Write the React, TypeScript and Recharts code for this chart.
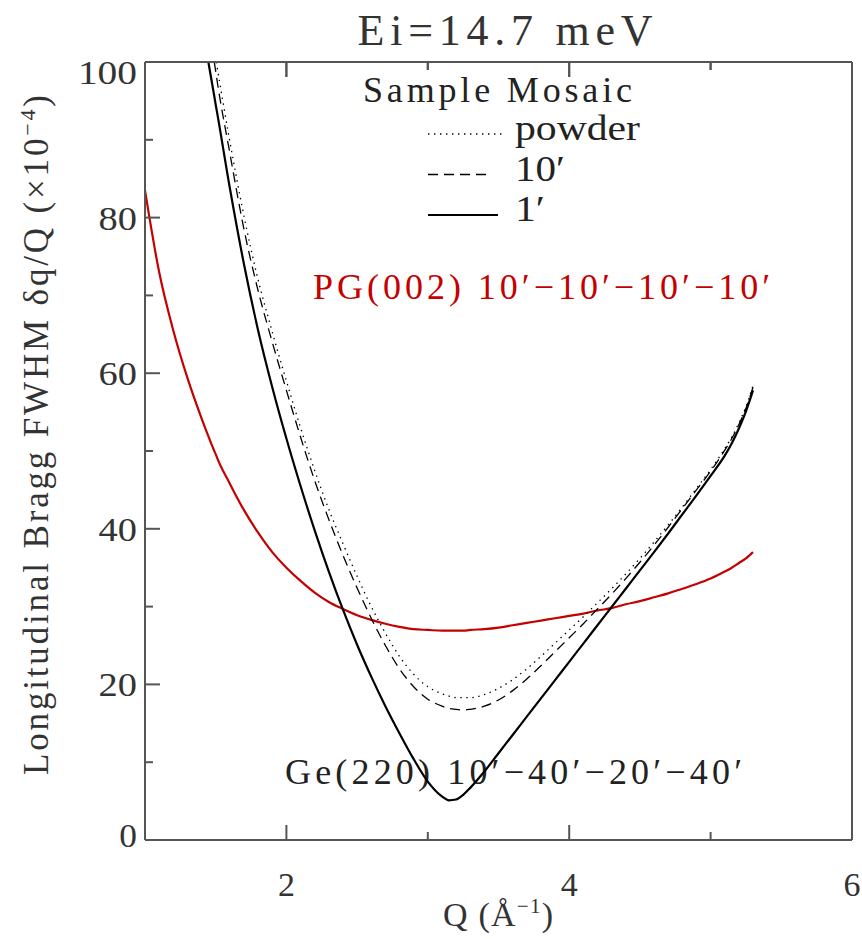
import { LineChart, Line, XAxis, YAxis, Legend, ReferenceLine } from "recharts"

// Q grid (Å^-1); 1.448 / 1.49 / 1.504 are where the Ge curves leave the top of the frame
const qValues = [
  1.0, 1.1, 1.2, 1.3, 1.4, 1.448, 1.49, 1.5, 1.504, 1.6, 1.7, 1.8, 1.9, 2.0, 2.1, 2.2, 2.3, 2.4, 2.5, 2.6, 2.7, 2.8, 2.9, 3.0, 3.1,
  3.15, 3.2, 3.25,
  3.3, 3.4, 3.5, 3.6, 3.7, 3.8, 3.9, 4.0, 4.1, 4.2, 4.3, 4.4, 4.5, 4.6, 4.7, 4.8, 4.9, 5.0, 5.1,
  5.15, 5.2, 5.25, 5.3,
]

// PG(002) 10'-10'-10'-10'
const pgCurve = [
  83.5, 73.0, 65.5, 59.4, 54.2, 51.9, 50.0, 49.6, 49.4, 45.8, 42.4, 39.5, 37.0, 35.0, 33.3, 31.8, 30.6, 29.7, 28.9, 28.3, 27.8, 27.4, 27.1, 27.0, 26.9,
  26.9, 26.9, 26.9,
  27.0, 27.1, 27.3, 27.6, 27.9, 28.2, 28.5, 28.8, 29.1, 29.5, 29.8, 30.3, 30.7, 31.2, 31.7, 32.3, 32.9, 33.6, 34.5,
  35.0, 35.6, 36.2, 37.0,
]

// Ge(220) 10'-40'-20'-40', sample mosaic powder / 10' / 1'
const gePowder = [
  null, null, null, null, null, null, null, null, 100.0, 89.8, 80.2, 72.0, 65.3, 59.0, 53.0, 47.5, 42.5, 38.1, 33.9, 30.0, 26.6, 23.6, 21.3, 19.7, 18.8,
  18.5, 18.3, 18.3,
  18.3, 18.7, 19.5, 20.6, 22.0, 23.6, 25.3, 27.0, 28.7, 30.5, 32.3, 34.2, 36.2, 38.3, 40.5, 42.8, 45.2, 47.6, 50.3,
  51.8, 53.6, 55.7, 58.4,
]
const ge10 = [
  null, null, null, null, null, null, 100.0, 98.8, 98.3, 88.3, 78.5, 70.6, 64.0, 57.8, 51.8, 46.2, 41.2, 36.6, 32.4, 28.5, 25.0, 22.0, 19.7, 18.1, 17.2,
  16.9, 16.8, 16.7,
  16.8, 17.2, 18.0, 19.2, 20.7, 22.4, 24.2, 26.0, 27.8, 29.7, 31.6, 33.6, 35.7, 37.9, 40.2, 42.6, 45.0, 47.4, 50.1,
  51.6, 53.4, 55.5, 58.2,
]
const ge1 = [
  null, null, null, null, null, 100.0, 95.6, 94.5, 94.1, 83.8, 74.0, 65.5, 58.2, 51.6, 45.5, 39.8, 34.5, 29.6, 25.1, 21.0, 17.2, 13.7, 10.4, 7.5, 5.6,
  5.1, 5.2, 5.8,
  6.7, 8.8, 11.15, 13.5, 15.85, 18.2, 20.55, 22.9, 25.25, 27.6, 29.95, 32.3, 34.65, 37.0, 39.4, 41.85, 44.3, 46.8, 49.4,
  51.0, 52.9, 55.1, 57.8,
]

const xTicks = [1, 2, 3, 4, 5, 6]
const xLabeled = [2, 4, 6]
const xInner = [2, 3, 4, 5]
const yTicks = [0, 10, 20, 30, 40, 50, 60, 70, 80, 90, 100]
const yLabeled = [0, 20, 40, 60, 80, 100]
const legendOrder = ["powder", "10′", "1′"]

const rows = qValues.map((q, i) => ({ q, pg: pgCurve[i], powder: gePowder[i], m10: ge10[i], m1: ge1[i] }))

const FONT = "'Liberation Serif', 'DejaVu Serif', serif"
const FRAME = "#555"
const RED = "#c40000"
const MAJOR = 15
const MINOR = 8
const PLOT = { left: 145, top: 62, width: 707, height: 778 }

const lineStyles: Record<string, { width: number; dash?: string; len: number; text: number }> = {
  powder: { width: 1.3, dash: "1.4 4.6", len: 77, text: 125 },
  "10′": { width: 1.3, dash: "10 6", len: 62, text: 50 },
  "1′": { width: 2.2, len: 70, text: 30 },
}

function BottomTick({ x, y, payload }: any) {
  const v = payload.value
  const base = y - 32
  const major = xLabeled.includes(v)
  return (
    <g>
      {v > 1 && v < 6 && <line x1={x} x2={x} y1={base} y2={base - (major ? MAJOR : MINOR)} stroke={FRAME} strokeWidth={2} />}
      {major && (
        <text x={x} y={y} dy="0.72em" textAnchor="middle" fontFamily={FONT} fontSize={34} fill="#333">
          {v}
        </text>
      )}
    </g>
  )
}

function LeftTick({ x, y, payload }: any) {
  const v = payload.value
  const edge = x + 8
  const major = yLabeled.includes(v)
  const shift = v === 100 ? 10 : v === 0 ? -5 : 0
  const s = String(v)
  return (
    <g>
      {v > 0 && v < 100 && <line x1={edge} x2={edge + (major ? MAJOR : MINOR)} y1={y} y2={y} stroke={FRAME} strokeWidth={2} />}
      {major && (
        <text x={x} y={y + shift} dy="0.35em" textAnchor="end" fontFamily={FONT} fontSize={34} fill="#333"
          textLength={s.length * 20.7 - 3} lengthAdjust="spacingAndGlyphs">
          {s}
        </text>
      )}
    </g>
  )
}

function RightTick({ x, y, payload }: any) {
  const v = payload.value
  if (v <= 0 || v >= 100) return null
  return <line x1={x} x2={x - (yLabeled.includes(v) ? MAJOR : MINOR)} y1={y} y2={y} stroke={FRAME} strokeWidth={2} />
}

function MosaicLegend({ payload }: any) {
  const items = (payload || [])
    .filter((p: any) => legendOrder.includes(p.value))
    .sort((a: any, b: any) => legendOrder.indexOf(a.value) - legendOrder.indexOf(b.value))
  return (
    <svg width={300} height={170} style={{ overflow: "visible" }}>
      <text x={8} y={34} fontFamily={FONT} fontSize={36} fill="#222" textLength={269} lengthAdjust="spacing">
        Sample Mosaic
      </text>
      {items.map((p: any, i: number) => {
        const st = lineStyles[p.value]
        const by = 72 + i * 40.5
        return (
          <g key={p.value}>
            <line x1={73} x2={73 + st.len} y1={by - 6} y2={by - 6} stroke="#000" strokeWidth={st.width} strokeDasharray={st.dash} />
            <text x={160} y={by} fontFamily={FONT} fontSize={36} fill="#222" textLength={st.text} lengthAdjust="spacingAndGlyphs">
              {p.value}
            </text>
          </g>
        )
      })}
    </svg>
  )
}

export default function App() {
  return (
    <div style={{ position: "absolute", left: 0, top: 0, width: 862, height: 939, background: "#fff" }}>
      <LineChart width={862} height={939} data={rows} margin={{ top: 62, right: 10, bottom: 59, left: 85 }}>
        <XAxis xAxisId="x" dataKey="q" type="number" domain={[1, 6]} ticks={xTicks} interval={0} height={40}
          tickLine={false} tickSize={0} tickMargin={32} axisLine={{ stroke: FRAME, strokeWidth: 2 }} tick={<BottomTick />} />
        <XAxis xAxisId="xt" dataKey="q" orientation="top" mirror type="number" domain={[1, 6]} ticks={xTicks}
          tickLine={false} tick={false} axisLine={{ stroke: FRAME, strokeWidth: 2 }} />
        <YAxis yAxisId="y" type="number" domain={[0, 100]} ticks={yTicks} interval={0} width={60}
          tickLine={false} tickSize={0} tickMargin={8} axisLine={{ stroke: FRAME, strokeWidth: 2 }} tick={<LeftTick />} />
        <YAxis yAxisId="yr" orientation="right" mirror type="number" domain={[0, 100]} ticks={yTicks} interval={0}
          tickLine={false} tickSize={0} tickMargin={0} axisLine={{ stroke: FRAME, strokeWidth: 2 }} tick={<RightTick />} />

        <Line xAxisId="x" yAxisId="y" type="monotone" dataKey="pg" name="PG(002)" stroke={RED} strokeWidth={2.2}
          dot={false} legendType="none" isAnimationActive={false} />
        <Line xAxisId="x" yAxisId="y" type="monotone" dataKey="powder" name="powder" stroke="#000"
          strokeWidth={lineStyles.powder.width} strokeDasharray={lineStyles.powder.dash} dot={false} isAnimationActive={false} />
        <Line xAxisId="x" yAxisId="y" type="monotone" dataKey="m10" name="10′" stroke="#000"
          strokeWidth={lineStyles["10′"].width} strokeDasharray={lineStyles["10′"].dash} dot={false} isAnimationActive={false} />
        <Line xAxisId="x" yAxisId="y" type="monotone" dataKey="m1" name="1′" stroke="#000"
          strokeWidth={lineStyles["1′"].width} dot={false} isAnimationActive={false} />

        {xInner.map((v) => (
          <ReferenceLine key={`top-${v}`} xAxisId="x" yAxisId="y" stroke={FRAME} strokeWidth={2} ifOverflow="visible"
            segment={[{ x: v, y: 100 }, { x: v, y: 100 - ((xLabeled.includes(v) ? MAJOR : MINOR) * 100) / PLOT.height }]} />
        ))}

        <Legend layout="horizontal" verticalAlign="middle" align="center" content={<MosaicLegend />}
          wrapperStyle={{ position: "absolute", left: 355, top: 68, width: 300, height: 170 }} />

        <text x={505} y={45} textAnchor="middle" fontFamily={FONT} fontSize={44} fill="#333" textLength={295} lengthAdjust="spacing">
          Ei=14.7 meV
        </text>
        <text x={313} y={299} fontFamily={FONT} fontSize={36} fill={RED} textLength={457} lengthAdjust="spacing">
          PG(002) 10′−10′−10′−10′
        </text>
        <text x={285} y={784} fontFamily={FONT} fontSize={36} fill="#222" textLength={457} lengthAdjust="spacing">
          Ge(220) 10′−40′−20′−40′
        </text>
        <text transform="translate(48,435) rotate(-90)" textAnchor="middle" fontFamily={FONT} fontSize={35} fill="#333"
          textLength={680} lengthAdjust="spacing">
          Longitudinal Bragg FWHM δq/Q (×10<tspan dy={-13} fontSize={22}>−4</tspan><tspan dy={13}>)</tspan>
        </text>
        <text x={498} y={926} textAnchor="middle" fontFamily={FONT} fontSize={34} fill="#333" textLength={110} lengthAdjust="spacing">
          Q (Å<tspan dy={-13} fontSize={21}>−1</tspan><tspan dy={13}>)</tspan>
        </text>
        <g>
          {xInner.map((v) => {
            const tx = PLOT.left + ((v - 1) / 5) * PLOT.width
            return (
              <line key={`tt-${v}`} x1={tx} x2={tx} y1={PLOT.top} y2={PLOT.top + (xLabeled.includes(v) ? MAJOR : MINOR)}
                stroke={FRAME} strokeWidth={2} />
            )
          })}
        </g>
      </LineChart>
    </div>
  )
}
